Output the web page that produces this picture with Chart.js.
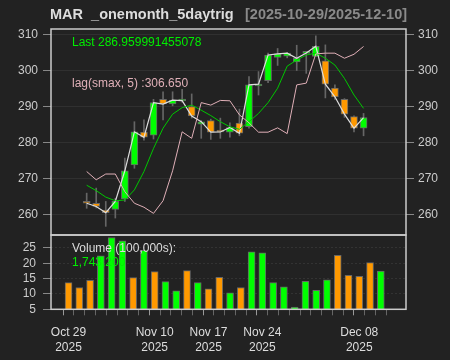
<!DOCTYPE html>
<html>
<head>
<meta charset="utf-8">
<script src="https://cdn.jsdelivr.net/npm/chart.js@4.4.0/dist/chart.umd.min.js"></script>
<style>
  body { margin: 0; background: #222222; }
  #wrap { position: relative; width: 450px; height: 360px; overflow: hidden; font-family: "Liberation Sans", Arial, sans-serif; }
  canvas { position: absolute; left: 0; }
  .txt { position: absolute; white-space: pre; font-size: 12px; line-height: 12px; }
</style>
</head>
<body>
<div id="wrap">
  <canvas id="price" width="450" height="240" style="top:0px"></canvas>
  <canvas id="volume" width="450" height="130" style="top:230px"></canvas>
  <div class="txt" style="left:50px;top:7px;font-size:14.5px;line-height:14.5px;font-weight:bold;color:#dddddd">MAR  _onemonth_5daytrig</div>
  <div class="txt" style="left:245px;top:7px;font-size:14.5px;line-height:14.5px;font-weight:bold;color:#8a8a8a">[2025-10-29/2025-12-10]</div>
  <div class="txt" style="left:72px;top:36px;color:#00ee00">Last 286.959991455078</div>
  <div class="txt" style="left:72px;top:77px;color:#e0b0b8">lag(smax, 5) :306.650</div>
  <div class="txt" style="left:72px;top:242px;color:#dddddd">Volume (100,000s):</div>
  <div class="txt" style="left:72px;top:256px;color:#00ee00">1,743,200</div>
</div>
<script>
// trading days 2025-10-29 .. 2025-12-10
const days = ['Oct 29','Oct 30','Oct 31','Nov 03','Nov 04','Nov 05','Nov 06','Nov 07',
  'Nov 10','Nov 11','Nov 12','Nov 13','Nov 14','Nov 17','Nov 18','Nov 19','Nov 20','Nov 21',
  'Nov 24','Nov 25','Nov 26','Nov 28','Dec 01','Dec 02','Dec 03','Dec 04','Dec 05',
  'Dec 08','Dec 09','Dec 10'];
const labelDays = ['Oct 29', 'Nov 10', 'Nov 17', 'Nov 24', 'Dec 08'];

const open  = [263.3, 263.2, 261.3, 261.5, 264.4, 273.8, 282.9, 282.1, 292.0, 290.7,
               291.55, 290.0, 285.1, 286.1, 283.05, 282.9, 285.4, 284.4, 295.7, 297.2,
               303.6, 304.0, 302.4, 304.75, 303.9, 302.7, 295.1, 292.0, 287.2, 284.0];
const high  = [266.0, 267.4, 263.7, 264.6, 275.7, 285.8, 286.3, 292.0, 294.1, 294.1,
               294.8, 293.5, 286.1, 286.5, 286.8, 285.5, 289.3, 298.3, 299.7, 304.8,
               306.1, 305.0, 307.0, 305.3, 309.6, 307.1, 296.0, 292.2, 287.4, 288.1];
const low   = [261.8, 261.9, 256.8, 259.1, 263.7, 272.9, 280.7, 281.0, 286.3, 290.2,
               291.2, 286.8, 281.2, 280.9, 281.2, 281.5, 281.9, 284.0, 293.2, 296.6,
               301.4, 303.5, 300.0, 299.2, 303.9, 292.4, 292.0, 287.0, 283.0, 281.9];
const close = [263.2, 262.3, 260.6, 263.7, 272.2, 283.0, 281.5, 291.1, 290.7, 291.8,
               291.65, 287.4, 285.8, 282.9, 282.95, 284.2, 282.6, 296.0, 296.2, 304.3,
               304.6, 304.8, 303.4, 304.85, 306.7, 296.2, 292.7, 287.9, 284.0, 286.96];
const sma   = [268.2, 266.7, 264.9, 263.9, 264.1, 266.9, 272.0, 278.4, 284.0, 287.9,
               289.7, 290.4, 289.0, 287.5, 285.8, 284.4, 283.7, 285.8, 288.1, 291.1,
               295.1, 301.2, 302.9, 304.3, 304.8, 303.4, 301.5, 297.8, 293.2, 289.5];
const lagSmax = [272.0, 269.7, 271.3, 271.3, 266.4, 263.2, 262.1, 260.4, 263.9, 272.2,
               283.0, 281.2, 291.1, 290.4, 291.7, 291.6, 287.7, 285.5, 282.9, 282.9,
               284.1, 282.5, 296.0, 296.5, 304.6, 304.8, 304.8, 303.4, 304.5, 306.65];
// volume in 100,000s
const volume = [13.7, 12.1, 14.4, 22.4, 28.4, 27.3, 15.3, 24.2, 17.3, 14.0,
                11.0, 17.6, 13.7, 11.7, 15.4, 10.4, 12.1, 23.7, 23.4, 13.7,
                12.3, 5.75, 14.1, 11.2, 14.6, 22.6, 16.1, 15.7, 20.2, 17.43];
const priceTicks = [260, 270, 280, 290, 300, 310];
const volTicks = [5, 10, 15, 20, 25];

const upCol = '#00ff00';
const downCol = '#ff9900';
const edgeCol = '#666666';
const xMin = -1.08, xMax = 30.79;

const idx = days.map((d, i) => i);
const barCols = idx.map(i => close[i] >= open[i] ? upCol : downCol);

// white frame around each panel
const framePlugin = {
  id: 'frame',
  afterDraw(chart) {
    const a = chart.chartArea;
    const ctx = chart.ctx;
    ctx.save();
    ctx.strokeStyle = '#cccccc';
    ctx.lineWidth = 1.5;
    ctx.strokeRect(a.left, a.top, a.right - a.left, a.bottom - a.top);
    ctx.restore();
  }
};

// fixed axis size, no extra label padding
function fixWidth(w) {
  return s => { s.width = w; s.paddingTop = 0; s.paddingBottom = 0; };
}

Chart.defaults.font.family = '"Liberation Sans", Arial, sans-serif';
Chart.defaults.font.size = 12;
Chart.defaults.color = '#cccccc';

function lineSet(values, color, width) {
  return {
    type: 'line',
    data: idx.map(i => ({ x: i, y: values[i] })),
    borderColor: color,
    borderWidth: width,
    pointRadius: 0,
    tension: 0,
    order: 0
  };
}

new Chart(document.getElementById('price'), {
  type: 'bar',
  data: {
    datasets: [
      {
        data: idx.map(i => ({ x: i, y: [low[i], high[i]] })),
        backgroundColor: edgeCol,
        barThickness: 1,
        order: 3
      },
      {
        data: idx.map(i => ({ x: i, y: [open[i], close[i]] })),
        backgroundColor: barCols,
        borderColor: edgeCol,
        borderWidth: 1,
        borderSkipped: false,
        barThickness: 7,
        minBarLength: 2,
        order: 2
      },
      lineSet(lagSmax, '#e0b0b8', 1),
      lineSet(sma, '#00c800', 1),
      lineSet(close, '#dddddd', 1.2)
    ]
  },
  options: {
    responsive: false,
    animation: false,
    layout: { autoPadding: false, padding: { top: 29, bottom: 5, left: 0, right: 0 } },
    datasets: { bar: { grouped: false } },
    plugins: { legend: { display: false }, tooltip: { enabled: false } },
    scales: {
      x: { type: 'linear', min: xMin, max: xMax, display: false },
      y: {
        position: 'left',
        min: 254.4, max: 311.5,
        afterBuildTicks: s => { s.ticks = priceTicks.map(v => ({ value: v })); },
        afterFit: fixWidth(51),
        ticks: { padding: 5, color: '#cccccc' },
        grid: { color: '#303030', tickColor: '#888888', tickLength: 8 },
        border: { display: false }
      },
      yR: {
        position: 'right',
        min: 254.4, max: 311.5,
        afterBuildTicks: s => { s.ticks = priceTicks.map(v => ({ value: v })); },
        afterFit: fixWidth(44),
        ticks: { padding: 4, color: '#cccccc' },
        grid: { drawOnChartArea: false, tickColor: '#888888', tickLength: 8 },
        border: { display: false }
      }
    }
  },
  plugins: [framePlugin]
});

new Chart(document.getElementById('volume'), {
  type: 'bar',
  data: {
    datasets: [{
      data: idx.map(i => ({ x: i, y: volume[i] })),
      backgroundColor: barCols,
      borderColor: edgeCol,
      borderWidth: 1,
      borderSkipped: 'bottom',
      barThickness: 7
    }]
  },
  options: {
    responsive: false,
    animation: false,
    layout: { autoPadding: false, padding: { top: 5, bottom: 0, left: 0, right: 44 } },
    plugins: { legend: { display: false }, tooltip: { enabled: false } },
    scales: {
      x: {
        type: 'linear', min: xMin, max: xMax,
        afterBuildTicks: s => { s.ticks = idx.map(i => ({ value: i })); },
        afterFit: s => { s.height = 50.7; s.paddingLeft = 0; s.paddingRight = 0; },
        ticks: {
          autoSkip: false, maxRotation: 0, padding: 10, color: '#dddddd',
          font: { size: 12, lineHeight: 1.25 },
          callback: v => labelDays.includes(days[v]) ? [days[v], '2025'] : ''
        },
        grid: {
          drawOnChartArea: false, tickLength: 6,
          tickColor: c => (c.tick && labelDays.includes(days[c.tick.value])) ? '#999999' : '#666666'
        },
        border: { display: false }
      },
      y: {
        position: 'left',
        min: 5, max: 29.2,
        afterBuildTicks: s => { s.ticks = volTicks.map(v => ({ value: v })); },
        afterFit: fixWidth(51),
        ticks: { padding: 7, color: '#cccccc' },
        grid: { color: '#333333', borderDash: [2, 2], tickColor: '#888888', tickLength: 8 },
        border: { display: false, dash: [2, 2] }
      }
    }
  },
  plugins: [framePlugin]
});
</script>
</body>
</html>
